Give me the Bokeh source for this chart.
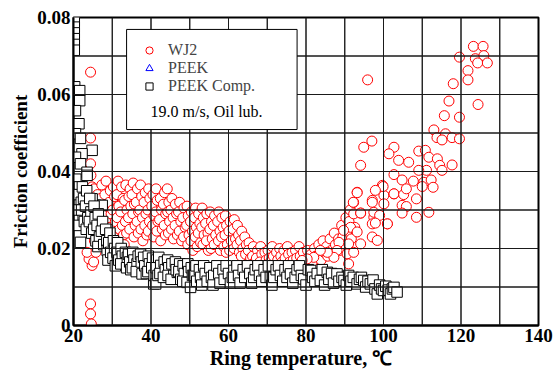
from bokeh.plotting import figure
from bokeh.models import (Range1d, FixedTicker, Legend, LegendItem, Label,
                          BoxAnnotation, ColumnDataSource)
from bokeh.embed import file_html
from bokeh.resources import INLINE

# ---------------- data ----------------
x_start, x_end = 20, 140
y_start, y_end = 0, 0.08
x_ticks = [20, 40, 60, 80, 100, 120, 140]
x_grid = [30, 40, 50, 60, 70, 80, 90, 100, 110, 120, 130]
y_ticks = [0, 0.02, 0.04, 0.06, 0.08]
y_grid = [0.01, 0.02, 0.03, 0.04, 0.05, 0.06, 0.07]
y_tick_labels = {0: "0", 0.02: "0.02", 0.04: "0.04", 0.06: "0.06", 0.08: "0.08"}

wj2_points = [
    (24.4, 0.0658), (24.4, 0.0487), (24.4, 0.0420), (24.5, 0.0390), (24.8, 0.0360), (25.3, 0.0330),
    (24.4, 0.0056), (24.4, 0.0030), (24.6, 0.0004), (24.8, 0.0156), (24.0, 0.0173), (23.5, 0.0190), (25.2, 0.0165),
    (25.3, 0.0355), (25.1, 0.031), (25.6, 0.027), (25.4, 0.022), (25.8, 0.019),
    (26.2, 0.034), (26.5, 0.030), (26.1, 0.025), (26.7, 0.021),
    (27.3, 0.0365), (27.0, 0.033), (27.5, 0.029), (27.2, 0.026), (27.8, 0.0225),
    (28.4, 0.0375), (28.1, 0.034), (28.6, 0.031), (28.3, 0.027), (28.9, 0.024),
    (29.5, 0.035), (29.2, 0.032), (29.7, 0.029), (29.4, 0.0255),
    (30.3, 0.036), (30.6, 0.0335), (30.1, 0.030), (30.8, 0.027), (30.4, 0.023),
    (31.5, 0.0375), (31.2, 0.034), (31.7, 0.031), (31.3, 0.028), (31.9, 0.025), (31.6, 0.022),
    (32.4, 0.036), (32.8, 0.033), (32.2, 0.0295), (32.6, 0.026), (32.9, 0.0235),
    (33.5, 0.0365), (33.2, 0.0325), (33.8, 0.030), (33.4, 0.027), (33.7, 0.024), (33.1, 0.021),
    (34.6, 0.0355), (34.3, 0.0335), (34.8, 0.031), (34.2, 0.028), (34.5, 0.025),
    (35.4, 0.037), (35.1, 0.034), (35.7, 0.0315), (35.3, 0.029), (35.9, 0.026), (35.6, 0.023),
    (36.5, 0.0355), (36.2, 0.032), (36.8, 0.0295), (36.4, 0.027), (36.7, 0.024),
    (37.3, 0.0365), (37.6, 0.0335), (37.1, 0.030), (37.8, 0.028), (37.4, 0.025), (37.9, 0.022),
    (38.5, 0.0345), (38.2, 0.032), (38.7, 0.029), (38.4, 0.026), (38.9, 0.0235),
    (39.4, 0.0355), (39.7, 0.033), (39.2, 0.030), (39.6, 0.027), (39.3, 0.0245),
    (40.5, 0.034), (40.2, 0.031), (40.8, 0.0285), (40.4, 0.026), (40.7, 0.023),
    (41.3, 0.0355), (41.6, 0.0325), (41.2, 0.0295), (41.8, 0.027), (41.5, 0.0245),
    (42.4, 0.033), (42.7, 0.030), (42.2, 0.0275), (42.9, 0.025), (42.5, 0.022),
    (43.5, 0.0345), (43.2, 0.0315), (43.8, 0.029), (43.4, 0.026), (43.7, 0.0235),
    (44.2, 0.0355), (44.6, 0.032), (44.3, 0.0295), (44.8, 0.027), (44.5, 0.024),
    (45.4, 0.033), (45.1, 0.030), (45.7, 0.028), (45.3, 0.025), (45.8, 0.0225),
    (46.3, 0.0315), (46.6, 0.029), (46.2, 0.026), (46.8, 0.0235),
    (47.4, 0.032), (47.1, 0.0295), (47.7, 0.027), (47.3, 0.0245), (47.9, 0.022),
    (48.5, 0.0305), (48.2, 0.028), (48.8, 0.0255), (48.4, 0.023),
    (49.3, 0.031), (49.6, 0.0285), (49.2, 0.026), (49.8, 0.0235), (49.5, 0.021),
    (50.4, 0.0295), (50.2, 0.027), (50.7, 0.0245), (50.3, 0.022), (50.8, 0.0195),
    (51.5, 0.0305), (51.2, 0.028), (51.7, 0.0255), (51.4, 0.023), (51.9, 0.0205),
    (52.3, 0.029), (52.6, 0.0265), (52.2, 0.024), (52.8, 0.0215),
    (53.2, 0.0305), (53.5, 0.028), (53.1, 0.0255), (53.7, 0.0235), (53.4, 0.021),
    (54.4, 0.029), (54.1, 0.0265), (54.7, 0.024), (54.3, 0.022), (54.8, 0.0195),
    (55.3, 0.0295), (55.6, 0.027), (55.2, 0.025), (55.8, 0.0225), (55.5, 0.020),
    (56.4, 0.0285), (56.1, 0.026), (56.7, 0.0235), (56.3, 0.021),
    (57.5, 0.0295), (57.2, 0.027), (57.8, 0.0245), (57.4, 0.022), (57.9, 0.0195),
    (58.3, 0.028), (58.6, 0.0255), (58.2, 0.023), (58.8, 0.0205),
    (59.2, 0.0285), (59.5, 0.026), (59.1, 0.0235), (59.7, 0.021), (59.4, 0.019),
    (60.4, 0.027), (60.1, 0.0245), (60.7, 0.022), (60.3, 0.0195),
    (61.5, 0.0275), (61.2, 0.025), (61.8, 0.0225), (61.4, 0.020),
    (62.3, 0.026), (62.6, 0.0235), (62.2, 0.021), (62.8, 0.019),
    (63.4, 0.0245), (63.1, 0.022), (63.7, 0.020), (63.3, 0.018),
    (64.2, 0.023), (64.6, 0.021), (64.4, 0.0185),
    (65.3, 0.0215), (65.1, 0.0195), (65.7, 0.0175),
    (66.4, 0.0205), (66.2, 0.018), (66.8, 0.0165),
    (67.5, 0.0195), (67.2, 0.0175),
    (68.3, 0.0205), (68.6, 0.0185), (68.1, 0.0165),
    (69.4, 0.019), (69.7, 0.017),
    (70.2, 0.0195), (70.5, 0.0175), (70.8, 0.0165),
    (71.3, 0.0205), (71.6, 0.018),
    (72.4, 0.019), (72.7, 0.017),
    (73.2, 0.020), (73.5, 0.018), (73.8, 0.0165),
    (74.3, 0.0195), (74.6, 0.0175),
    (75.2, 0.0205), (75.5, 0.0185), (75.8, 0.0165),
    (76.4, 0.019), (76.7, 0.017),
    (77.3, 0.0195), (77.6, 0.0175),
    (78.2, 0.0205), (78.5, 0.018), (78.8, 0.0165),
    (79.3, 0.019), (79.6, 0.017),
    (80.4, 0.0195), (80.7, 0.0175),
    (81.3, 0.0185), (81.6, 0.0165),
    (82.2, 0.020), (82.5, 0.018),
    (83.3, 0.021), (83.6, 0.0185), (83.9, 0.017),
    (84.4, 0.022), (84.7, 0.019),
    (85.3, 0.0205), (85.6, 0.018),
    (86.2, 0.0225), (86.5, 0.0195),
    (87.3, 0.024), (87.6, 0.021), (87.2, 0.0185),
    (88.4, 0.0225), (88.7, 0.0195),
    (89.2, 0.026), (89.5, 0.023), (89.8, 0.020),
    (90.3, 0.028), (90.6, 0.0245), (90.2, 0.021),
    (91.4, 0.030), (91.1, 0.027), (91.7, 0.0225),
    (92.3, 0.029), (92.6, 0.0255),
    (93.2, 0.0346), (92.3, 0.0320), (97.1, 0.0325), (100.1, 0.0338), (99.7, 0.0364), (102.7, 0.0342),
    (94.1, 0.0292), (97.5, 0.0281), (101.0, 0.0264), (97.1, 0.0264), (91.5, 0.0255), (89.7, 0.0247),
    (93.2, 0.0243), (97.1, 0.0230), (98.4, 0.0221), (94.1, 0.0212), (91.0, 0.0212), (88.5, 0.0216),
    (88.0, 0.0195), (90.6, 0.0186), (92.3, 0.0190), (91.0, 0.0160), (87.2, 0.0177), (85.5, 0.0190),
    (83.7, 0.0195), (82.0, 0.0177), (80.3, 0.0173), (79.0, 0.0169),
    (123.2, 0.0725), (125.7, 0.0725), (119.6, 0.0697), (123.7, 0.0693), (125.9, 0.0701), (124.3, 0.0682),
    (126.8, 0.0682), (121.8, 0.0662), (121.8, 0.0638), (118.0, 0.0628), (95.9, 0.0638), (116.9, 0.0583),
    (124.4, 0.0574), (115.7, 0.0545), (119.6, 0.0541), (113.0, 0.0508), (113.8, 0.0488), (116.0, 0.0498),
    (115.1, 0.0482), (117.7, 0.0488), (119.6, 0.0485), (97.0, 0.0479), (94.9, 0.0463), (94.1, 0.0416),
    (102.7, 0.0463), (101.4, 0.0446), (103.9, 0.0429), (106.5, 0.0424), (109.1, 0.0453), (110.8, 0.0455),
    (111.7, 0.0437), (113.9, 0.0433), (114.5, 0.0416), (115.1, 0.0403), (117.7, 0.0417), (111.1, 0.0403),
    (109.1, 0.0403), (102.7, 0.0392), (104.8, 0.0378), (107.7, 0.0375), (110.4, 0.0372), (112.3, 0.0378),
    (110.0, 0.0361), (112.8, 0.0359), (99.9, 0.0361), (97.9, 0.0351), (93.2, 0.0345), (92.2, 0.0320),
    (102.7, 0.0342), (105.2, 0.0340), (105.9, 0.0355), (108.5, 0.0329), (97.1, 0.0320), (100.1, 0.0316),
    (104.8, 0.0312), (105.9, 0.0309), (111.7, 0.0294), (94.1, 0.0292), (97.5, 0.0294), (99.0, 0.0286),
    (104.8, 0.0292), (108.5, 0.0281), (97.9, 0.0266), (101.0, 0.0264),
]

peek_comp_points = [
    (20.2, 0.0790), (20.2, 0.0775), (20.2, 0.0760), (20.2, 0.0745), (20.2, 0.0730), (20.2, 0.0715),
    (20.3, 0.0620), (21.6, 0.0610), (21.6, 0.0584), (20.5, 0.0558), (21.4, 0.0524), (20.5, 0.0498),
    (21.8, 0.0486), (24.8, 0.0455), (22.2, 0.0446), (20.5, 0.0437), (21.8, 0.0420), (23.5, 0.0398),
    (20.6, 0.0380), (21.5, 0.0360), (20.8, 0.0340), (22.0, 0.0320), (21.0, 0.0300), (22.5, 0.0280),
    (21.3, 0.0260), (21.8, 0.0216), (24.0, 0.0273), (27.0, 0.0312), (25.7, 0.0312), (27.4, 0.0312),
    (24.8, 0.0329), (23.5, 0.0390),
    (22.3, 0.036), (22.6, 0.033), (22.1, 0.030), (22.8, 0.027),
    (23.4, 0.035), (23.1, 0.031), (23.7, 0.028), (23.3, 0.025),
    (24.2, 0.033), (24.5, 0.0295), (24.1, 0.027), (24.7, 0.024),
    (25.3, 0.031), (25.6, 0.028), (25.2, 0.025), (25.8, 0.022),
    (26.4, 0.029), (26.1, 0.026), (26.7, 0.023), (26.3, 0.0205),
    (27.5, 0.027), (27.2, 0.0245), (27.8, 0.021),
    (28.3, 0.025), (28.6, 0.022), (28.7, 0.0195), (28.9, 0.017),
    (29.4, 0.024), (29.1, 0.0215), (29.6, 0.019),
    (30.3, 0.022), (30.6, 0.020), (30.2, 0.0175), (30.8, 0.0155),
    (31.4, 0.0215), (31.2, 0.019), (31.7, 0.017),
    (32.3, 0.020), (32.6, 0.018), (32.2, 0.016),
    (33.4, 0.019), (33.9, 0.0177), (33.7, 0.015),
    (34.2, 0.0185), (34.5, 0.0165), (34.8, 0.0145),
    (35.3, 0.019), (35.6, 0.017), (35.2, 0.015),
    (36.4, 0.016), (36.7, 0.018), (36.2, 0.014),
    (37.7, 0.0134), (37.3, 0.0185), (37.5, 0.0165),
    (38.1, 0.0177), (38.4, 0.0155), (38.8, 0.0135),
    (39.3, 0.018), (39.6, 0.016), (39.2, 0.014),
    (40.4, 0.0175), (40.7, 0.0108), (40.2, 0.015), (40.8, 0.013),
    (41.2, 0.0108), (41.5, 0.017), (41.3, 0.015), (41.8, 0.013),
    (42.0, 0.0177), (42.5, 0.0156), (42.3, 0.0135),
    (43.4, 0.0165), (43.7, 0.0145), (43.2, 0.0125),
    (44.3, 0.017), (44.6, 0.015), (44.4, 0.013),
    (45.4, 0.016), (45.9, 0.013), (45.2, 0.012),
    (46.8, 0.0138), (46.3, 0.0165), (46.5, 0.0145),
    (47.4, 0.016), (47.2, 0.014), (47.7, 0.012),
    (48.3, 0.0155), (48.6, 0.0135), (48.2, 0.0115),
    (49.3, 0.0112), (49.5, 0.016), (49.7, 0.014),
    (50.2, 0.0099), (50.4, 0.015), (50.7, 0.013),
    (51.0, 0.013), (51.6, 0.0155), (51.8, 0.0115),
    (52.5, 0.0145), (52.8, 0.0125), (53.1, 0.0105),
    (53.6, 0.0155), (54.0, 0.0135), (54.5, 0.0115),
    (55.2, 0.015), (55.6, 0.0125), (56.2, 0.013), (56.0, 0.0105),
    (57.0, 0.0155), (57.5, 0.0135), (57.8, 0.011),
    (58.6, 0.0145), (58.9, 0.012), (59.4, 0.0155),
    (60.0, 0.0135), (60.5, 0.011), (61.4, 0.0143), (61.0, 0.0125),
    (62.2, 0.0155), (62.6, 0.013), (63.0, 0.011),
    (63.8, 0.0145), (64.2, 0.0125), (64.9, 0.0155),
    (65.5, 0.0135), (66.0, 0.011), (66.5, 0.0125), (66.9, 0.0145),
    (67.6, 0.0155), (68.0, 0.013), (68.6, 0.0115),
    (69.2, 0.0145), (69.7, 0.0125), (70.3, 0.0155),
    (70.8, 0.0125), (71.2, 0.0105), (71.7, 0.0125), (72.3, 0.0145),
    (72.9, 0.0155), (73.4, 0.013), (74.0, 0.0115),
    (74.6, 0.0145), (75.1, 0.0125), (75.5, 0.0155),
    (76.0, 0.0134), (76.6, 0.011), (77.2, 0.0125), (77.7, 0.0145),
    (78.3, 0.0155), (78.8, 0.013), (79.4, 0.0121),
    (80.0, 0.0105), (80.6, 0.0145), (81.2, 0.0143), (81.7, 0.0125),
    (82.3, 0.0115), (82.9, 0.0135), (83.7, 0.0117),
    (84.2, 0.0145), (84.8, 0.0105), (85.5, 0.0138), (85.9, 0.012),
    (86.6, 0.0135), (87.1, 0.011), (88.0, 0.0134), (88.5, 0.0115),
    (89.3, 0.0125), (89.8, 0.0117), (90.4, 0.0105), (91.0, 0.013),
    (91.6, 0.0115), (92.2, 0.0125), (93.2, 0.0108), (93.8, 0.012),
    (94.3, 0.0125), (94.9, 0.0117), (95.4, 0.0100), (96.0, 0.0115),
    (96.6, 0.0108), (97.3, 0.0118), (97.8, 0.0095), (98.4, 0.0082),
    (99.0, 0.0105), (99.5, 0.0095), (100.0, 0.0091), (100.6, 0.0102),
    (101.2, 0.0092), (101.8, 0.0082), (102.3, 0.0095), (102.7, 0.0099), (103.5, 0.0087),
]

# PEEK series: listed in the legend, no points visible in the chart
peek_temp = [float("nan")]
peek_mu = [float("nan")]

# ---------------- figure ----------------
SERIF = "Liberation Serif"

p = figure(width=553, height=377, output_backend="svg", toolbar_location=None,
           x_range=Range1d(x_start, x_end), y_range=Range1d(y_start, y_end),
           min_border_left=73, min_border_right=15, min_border_top=17, min_border_bottom=52)
p.background_fill_color = "white"
p.border_fill_color = "white"
p.outline_line_color = "black"
p.outline_line_width = 2
p.xgrid.visible = False
p.ygrid.visible = False

src_wj2 = ColumnDataSource(dict(x=[q[0] for q in wj2_points], y=[q[1] for q in wj2_points]))
src_comp = ColumnDataSource(dict(x=[q[0] for q in peek_comp_points], y=[q[1] for q in peek_comp_points]))
src_peek = ColumnDataSource(dict(x=peek_temp, y=peek_mu))

r_wj2 = p.scatter("x", "y", source=src_wj2, marker="circle", size=10,
                  fill_color="white", line_color="red", line_width=1)
r_peek = p.scatter("x", "y", source=src_peek, marker="triangle", size=10,
                   fill_color="white", line_color="blue", line_width=1)
r_comp = p.scatter("x", "y", source=src_comp, marker="square", size=10.5,
                   fill_color="white", line_color="black", line_width=1)

# grid lines as zero-width box annotations (spanning the frame)
for gx in x_grid:
    p.add_layout(BoxAnnotation(left=gx, right=gx, fill_alpha=0.0,
                               line_color="#1a1a1a", line_alpha=1.0, line_width=1,
                               level="overlay"))
for gy in y_grid:
    p.add_layout(BoxAnnotation(bottom=gy, top=gy, fill_alpha=0.0,
                               line_color="#1a1a1a", line_alpha=1.0, line_width=1,
                               level="overlay"))

# axes
for ax in (p.xaxis[0], p.yaxis[0]):
    ax.major_label_text_font = SERIF
    ax.major_label_text_font_style = "bold"
    ax.major_label_text_font_size = "19px"
    ax.major_label_text_color = "black"
    ax.axis_label_text_font = SERIF
    ax.axis_label_text_font_style = "bold"
    ax.axis_label_text_color = "black"
    ax.major_tick_out = 0
    ax.major_tick_in = 0
    ax.minor_tick_out = 0
    ax.minor_tick_in = 0
    ax.axis_line_color = "black"
    ax.axis_line_width = 2
    ax.major_label_standoff = 3

p.xaxis.ticker = FixedTicker(ticks=x_ticks)
p.yaxis.ticker = FixedTicker(ticks=y_ticks)
p.yaxis.major_label_overrides = y_tick_labels
p.xaxis.axis_label = "Ring temperature,   ℃"
p.yaxis.axis_label = "Friction coefficient"
p.xaxis.axis_label_text_font_size = "20px"
p.yaxis.axis_label_text_font_size = "19px"
p.xaxis.axis_label_standoff = 2
p.yaxis.axis_label_standoff = 3

# legend frame
p.add_layout(BoxAnnotation(left=33.7, right=77.7, bottom=0.0509, top=0.0769,
                           fill_color="white", fill_alpha=1.0,
                           line_color="black", line_alpha=1.0, line_width=1,
                           level="overlay"))

legend = Legend(items=[LegendItem(label="WJ2", renderers=[r_wj2]),
                       LegendItem(label="PEEK", renderers=[r_peek]),
                       LegendItem(label="PEEK Comp.", renderers=[r_comp])],
                location=(66, 230), padding=0, margin=0, spacing=0,
                glyph_width=20, glyph_height=18, label_height=18, label_standoff=9,
                label_text_font=SERIF, label_text_font_size="16px",
                background_fill_alpha=0, border_line_alpha=0, level="overlay")
p.add_layout(legend, "center")

p.add_layout(Label(x=39.9, y=0.0556, text="19.0 m/s, Oil lub.", text_font=SERIF,
                   text_font_size="16px", text_baseline="middle", text_align="left",
                   text_color="black", level="overlay"))

open("out.html", "w").write(file_html(p, INLINE))
